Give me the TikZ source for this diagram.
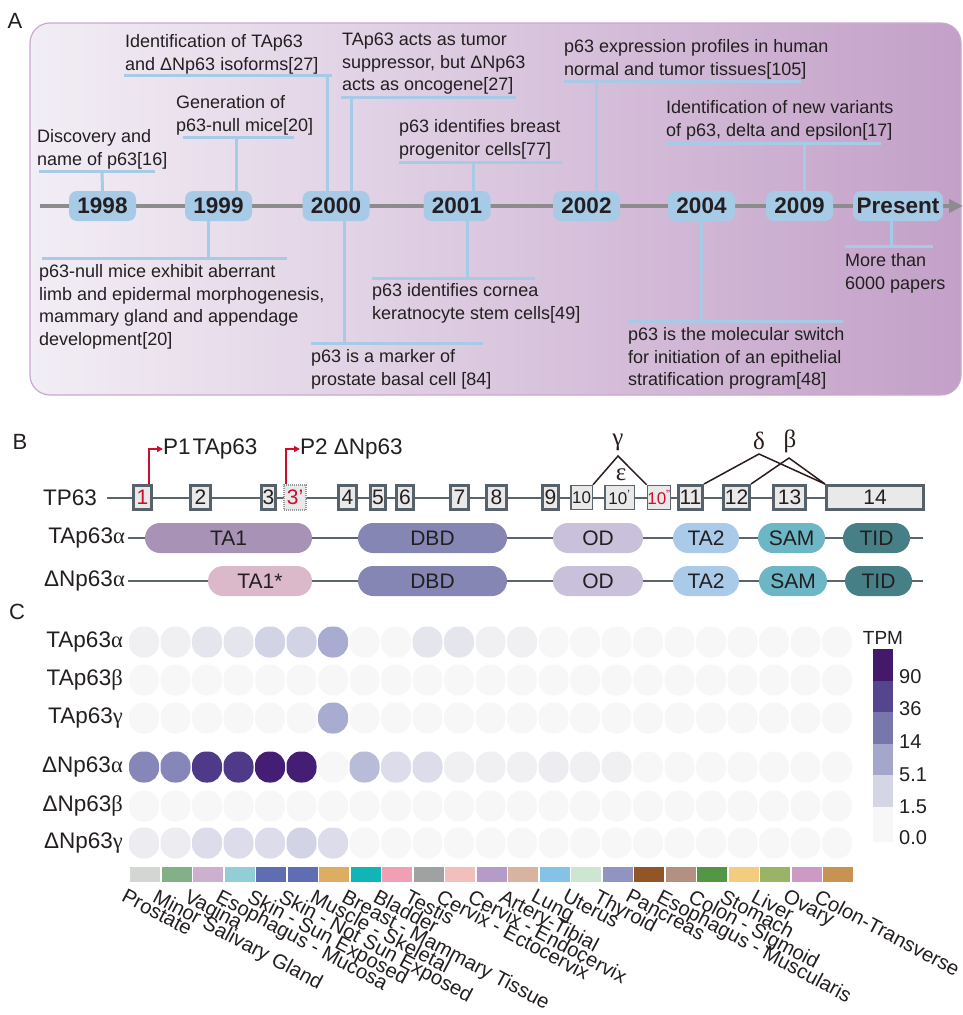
\documentclass[tikz,border=0pt]{standalone}
\usepackage{fontspec}
\setmainfont{Liberation Sans}
\newfontfamily\grk{Liberation Serif}
\usetikzlibrary{arrows.meta,calc}
\definecolor{txt}{HTML}{231F20}
\definecolor{tlblue}{HTML}{A7CBE6}
\definecolor{tlgray}{HTML}{8C8C8C}
\definecolor{bgl}{HTML}{F2EEF5}
\definecolor{bgr}{HTML}{C3A0C8}
\definecolor{bxborder}{HTML}{CBA8D0}
\definecolor{exgray}{HTML}{56616A}
\definecolor{exfill}{HTML}{E9E9E9}
\definecolor{lgray}{HTML}{5A666E}
\definecolor{pred}{HTML}{C8102E}
\definecolor{spl}{HTML}{2B1D1D}
\definecolor{cTA}{HTML}{A893B7}
\definecolor{cTAs}{HTML}{DBB9CB}
\definecolor{cDBD}{HTML}{8686B4}
\definecolor{cOD}{HTML}{C9C1DB}
\definecolor{cTAt}{HTML}{A9CBE9}
\definecolor{cSAM}{HTML}{6CB6C6}
\definecolor{cTID}{HTML}{477F87}
\definecolor{L0}{HTML}{F7F7F7}
\definecolor{La}{HTML}{F0F0F3}
\definecolor{Lb}{HTML}{ECECF1}
\definecolor{Lc}{HTML}{E5E5EE}
\definecolor{Ld}{HTML}{DCDCEA}
\definecolor{Le}{HTML}{D2D4E5}
\definecolor{Lf}{HTML}{B9BCD9}
\definecolor{Lg}{HTML}{A8ACD0}
\definecolor{Lh}{HTML}{8686B8}
\definecolor{Li}{HTML}{4F3A8A}
\definecolor{Lj}{HTML}{431E74}
\definecolor{g1}{HTML}{44196C}
\definecolor{g2}{HTML}{55458F}
\definecolor{g3}{HTML}{7777AB}
\definecolor{g4}{HTML}{A4A7C9}
\definecolor{g5}{HTML}{D4D6E5}
\definecolor{g6}{HTML}{F7F7F7}
\definecolor{t1}{HTML}{D4D6D4}
\definecolor{t2}{HTML}{82B087}
\definecolor{t3}{HTML}{CDAFCF}
\definecolor{t4}{HTML}{93CDD6}
\definecolor{t5}{HTML}{5F6DB3}
\definecolor{t6}{HTML}{5F6DB3}
\definecolor{t7}{HTML}{DDAD63}
\definecolor{t8}{HTML}{12B5B5}
\definecolor{t9}{HTML}{F09FB5}
\definecolor{t10}{HTML}{A0A2A2}
\definecolor{t11}{HTML}{F3BFBD}
\definecolor{t12}{HTML}{B59BC8}
\definecolor{t13}{HTML}{D8B3A0}
\definecolor{t14}{HTML}{83C3E6}
\definecolor{t15}{HTML}{CDE6D1}
\definecolor{t16}{HTML}{9194C1}
\definecolor{t17}{HTML}{925528}
\definecolor{t18}{HTML}{B39080}
\definecolor{t19}{HTML}{529646}
\definecolor{t20}{HTML}{F3CC7F}
\definecolor{t21}{HTML}{9AB466}
\definecolor{t22}{HTML}{CC9AC4}
\definecolor{t23}{HTML}{C69353}
\newcommand\evfont{\fontsize{18}{22.7}\selectfont}
\newcommand\bfont{\fontsize{22.5}{24}\selectfont}
\tikzset{
  yr/.style={fill=tlblue, rounded corners=8pt, minimum width=67pt, minimum height=30pt,
    inner sep=0pt, text=txt, font=\fontsize{22.5}{24}\selectfont\bfseries},
  conn/.style={draw=tlblue, line width=3pt},
  ev/.style={anchor=north west, inner sep=0pt, align=left, font=\evfont, text=txt},
  exon/.style={draw=exgray, line width=3pt, fill=exfill, inner sep=0pt, minimum height=24pt,
    text=txt, font=\fontsize{21}{21}\selectfont},
  thinexon/.style={draw=lgray, line width=1.5pt, fill=exfill, inner sep=0pt, minimum height=24pt,
    text=txt, font=\fontsize{17}{17}\selectfont},
  dom/.style={rounded corners=15pt, minimum height=30pt, inner sep=0pt, text=txt,
    font=\fontsize{21}{21}\selectfont},
  pline/.style={draw=lgray, line width=1.5pt},
  splice/.style={draw=spl, line width=1.5pt},
  prom/.style={draw=pred, line width=2pt, -{Triangle[length=6pt,width=6pt]}},
  glab/.style={inner sep=0pt, text=spl, font=\fontsize{25}{25}\selectfont\grk},
  rowlab/.style={anchor=east, inner sep=0pt, text=txt, font=\bfont},
  dot/.style={rounded corners=14pt, minimum width=30pt, minimum height=31pt, inner sep=0pt},
  tbar/.style={minimum width=30pt, minimum height=15pt, inner sep=0pt},
  tlab/.style={anchor=north west, rotate=-28, inner sep=0pt, text=txt, font=\fontsize{20.3}{20}\selectfont},
  leglab/.style={anchor=west, inner sep=0pt, text=txt, font=\fontsize{20}{20}\selectfont},
  panel/.style={inner sep=0pt, text=txt, font=\fontsize{22}{22}\selectfont}
}
\begin{document}
\begin{tikzpicture}[x=1pt,y=-1pt]
\useasboundingbox (0,0) rectangle (963,1015);

% ---------------- Panel A ----------------
\node[panel] (labA) at (15,21) {A};
\shadedraw[draw=bxborder, line width=1.2pt, rounded corners=20pt, left color=bgl, right color=bgr]
  (30,23) rectangle (961,395);

\coordinate (tlstart) at (40,206);
\coordinate (tlend) at (963,206);
\draw[line width=4pt, draw=tlgray, -{Triangle[length=14pt,width=13pt]}] (tlstart) -- (tlend);

\node[yr] (y1998) at (102.5,206) {1998};
\node[yr] (y1999) at (218.5,206) {1999};
\node[yr] (y2000) at (336,206) {2000};
\node[yr] (y2001) at (457,206) {2001};
\node[yr] (y2002) at (586.5,206) {2002};
\node[yr] (y2004) at (701.5,206) {2004};
\node[yr] (y2009) at (799.5,206) {2009};
\node[yr, minimum width=90pt] (ypres) at (898,206) {Present};

% events above
\node[ev] (e1) at (37,126.3) {\strut Discovery and\\name of p63[16]};
\draw[conn] (y1998.north) -- (102,171);
\draw[conn] (39,171) -- (155,171);

\node[ev] (e2) at (176,92.3) {\strut Generation of\\p63-null mice[20]};
\draw[conn] (y1999.north -| 236,0) -- (236,137);
\draw[conn] (183,137) -- (294,137);

\node[ev] (e3) at (125,31.3) {\strut Identification of TAp63\\and ΔNp63 isoforms[27]};
\draw[conn] (y2000.north -| 327,0) -- (327,75);
\draw[conn] (124,75) -- (332,75);

\node[ev] (e4) at (342,29.3) {\strut TAp63 acts as tumor\\suppressor, but ΔNp63\\acts as oncogene[27]};
\draw[conn] (y2000.north -| 351,0) -- (351,97);
\draw[conn] (341,97) -- (516,97);

\node[ev] (e5) at (399,116.3) {\strut p63 identifies breast\\progenitor cells[77]};
\draw[conn] (y2001.north -| 473,0) -- (473,162);
\draw[conn] (399,162) -- (562,162);

\node[ev] (e6) at (564,36.3) {\strut p63 expression profiles in human\\normal and tumor tissues[105]};
\draw[conn] (y2002.north -| 596,0) -- (596,81);
\draw[conn] (564,81) -- (801,81);

\node[ev] (e7) at (666,97.3) {\strut Identification of new variants\\of p63, delta and epsilon[17]};
\draw[conn] (y2009.north -| 804,0) -- (804,143);
\draw[conn] (666,143) -- (881,143);

% events below
\node[ev] (e8) at (39,261.3) {\strut p63-null mice exhibit aberrant\\limb and epidermal morphogenesis,\\mammary gland and appendage\\development[20]};
\draw[conn] (y1999.south -| 208,0) -- (208,258);
\draw[conn] (42,258) -- (287,258);

\node[ev] (e9) at (311,346.3) {\strut p63 is a marker of\\prostate basal cell [84]};
\draw[conn] (y2000.south -| 344,0) -- (344,343);
\draw[conn] (311,343) -- (483,343);

\node[ev] (e10) at (372,280.3) {\strut p63 identifies cornea\\keratnocyte stem cells[49]};
\draw[conn] (y2001.south -| 467,0) -- (467,278);
\draw[conn] (372,278) -- (535,278);

\node[ev] (e11) at (628,324.3) {\strut p63 is the molecular switch\\for initiation of an epithelial\\stratification program[48]};
\draw[conn] (y2004.south) -- (701,321);
\draw[conn] (628,321) -- (843,321);

\node[ev] (e12) at (845,250.3) {\strut More than\\6000 papers};
\draw[conn] (ypres.south -| 891,0) -- (891,246);
\draw[conn] (845,246) -- (933,246);

% ---------------- Panel B ----------------
\node[panel] (labB) at (20,442) {B};
\node[anchor=west, inner sep=0pt, text=txt, font=\bfont] (tp63) at (43,498) {TP63};
\coordinate (gs) at (107,498);
\coordinate (ge) at (925,498);
\draw[pline] (gs) -- (ge);

\node[exon, minimum width=18pt] (x1) at (142.5,497.5) {\color{pred}1};
\node[exon, minimum width=20pt] (x2) at (200.5,497.5) {2};
\node[exon, minimum width=14pt] (x3) at (268.5,497.5) {3};
\node[draw=gray!80, line width=2pt, dash pattern=on 1pt off 1pt, fill=exfill, inner sep=0pt,
  minimum width=22pt, minimum height=25pt, text=pred, font=\fontsize{21}{21}\selectfont]
  (x3p) at (295,497.5) {3'};
\node[exon, minimum width=18pt] (x4) at (347.5,497.5) {4};
\node[exon, minimum width=15pt] (x5) at (378,497.5) {5};
\node[exon, minimum width=17pt] (x6) at (405,497.5) {6};
\node[exon, minimum width=18pt] (x7) at (459.5,497.5) {7};
\node[exon, minimum width=20pt] (x8) at (496.5,497.5) {8};
\node[exon, minimum width=16pt] (x9) at (550.5,497.5) {9};
\node[thinexon, minimum width=21.5pt] (x10) at (581.5,497.5) {10};
\node[thinexon, minimum width=29.5pt] (x10p) at (619.5,497.5) {10\textsuperscript{'}};
\node[thinexon, minimum width=22.5pt, text=pred] (x10pp) at (659,497.5) {10\textsuperscript{''}};
\node[exon, minimum width=24pt] (x11) at (690.5,497.5) {11};
\node[exon, minimum width=26pt] (x12) at (736.5,497.5) {12};
\node[exon, minimum width=32pt] (x13) at (789.5,497.5) {13};
\node[exon, minimum width=97pt] (x14) at (875,497.5) {14};

% splicing
\coordinate (apg) at (618,456);
\coordinate (apd) at (759,454);
\coordinate (apb) at (789,458);
\draw[splice] (x10.north east) -- (apg) -- (x10pp.north west);
\draw[splice] (x11.north east) -- (apd) -- (x14.north west);
\draw[splice] (x12.north east) -- (apb) -- (x14.north west);
\node[glab] (lg) at (618,442) {γ};
\node[glab] (le) at (621,475) {ε};
\node[glab] (ld) at (759,441) {δ};
\node[glab] (lb) at (790,441) {β};

% promoters
\coordinate (p1c) at (149,449);
\coordinate (p2c) at (286,449);
\node[anchor=west, inner sep=0pt, text=txt, font=\bfont] (p1t) at (163,449) {P1\kern2pt TAp63};
\node[anchor=west, inner sep=0pt, text=txt, font=\bfont] (p2t) at (300,449) {P2 ΔNp63};
\draw[prom] (x1.north -| 149,0) -- (p1c) -- (p1t.west);
\draw[prom] (x3p.north -| 286,0) -- (p2c) -- (p2t.west);

% protein rows
\node[rowlab] (rTA) at (125,538) {TAp63{\grk α}};
\node[rowlab] (rDN) at (125,581) {ΔNp63{\grk α}};
\draw[pline] (rTA.east) ++(3,0) -- (923,538);
\draw[pline] (rDN.east) ++(3,0) -- (923,581);

\node[dom, fill=cTA, minimum width=167pt] (ta1) at (228.5,538) {TA1};
\node[dom, fill=cDBD, minimum width=149pt] (dbd1) at (432.5,538) {DBD};
\node[dom, fill=cOD, minimum width=90pt] (od1) at (598,538) {OD};
\node[dom, fill=cTAt, minimum width=66pt] (tat1) at (706,538) {TA2};
\node[dom, fill=cSAM, minimum width=67pt] (sam1) at (791.5,538) {SAM};
\node[dom, fill=cTID, minimum width=67pt] (tid1) at (876.5,538) {TID};

\node[dom, fill=cTAs, minimum width=104pt] (ta1s) at (260,581) {TA1*};
\node[dom, fill=cDBD, minimum width=149pt] (dbd2) at (432.5,581) {DBD};
\node[dom, fill=cOD, minimum width=90pt] (od2) at (598,581) {OD};
\node[dom, fill=cTAt, minimum width=66pt] (tat2) at (706,581) {TA2};
\node[dom, fill=cSAM, minimum width=68pt] (sam2) at (793,581) {SAM};
\node[dom, fill=cTID, minimum width=67pt] (tid2) at (878.5,581) {TID};

% ---------------- Panel C ----------------
\node[panel] (labC) at (17,612) {C};
\node[rowlab] (h1) at (123,642) {TAp63{\grk α}};
\node[rowlab] (h2) at (123,680) {TAp63{\grk β}};
\node[rowlab] (h3) at (123,718) {TAp63{\grk γ}};
\node[rowlab] (h4) at (123,767) {ΔNp63{\grk α}};
\node[rowlab] (h5) at (123,806) {ΔNp63{\grk β}};
\node[rowlab] (h6) at (123,843) {ΔNp63{\grk γ}};

\foreach \c [count=\i] in {La,La,Lc,Lc,Le,Le,Lg,L0,L0,Lc,Lc,La,La,L0,L0,L0,L0,L0,L0,L0,L0,L0,L0}
  \node[dot, fill=\c] (da\i) at ({144+(\i-1)*31.5},642) {};
\foreach \c [count=\i] in {L0,L0,L0,L0,L0,L0,L0,L0,L0,L0,L0,L0,L0,L0,L0,L0,L0,L0,L0,L0,L0,L0,L0}
  \node[dot, fill=\c] (db\i) at ({144+(\i-1)*31.5},680) {};
\foreach \c [count=\i] in {L0,L0,L0,L0,L0,L0,Lg,L0,L0,L0,L0,L0,L0,L0,L0,L0,L0,L0,L0,L0,L0,L0,L0}
  \node[dot, fill=\c] (dc\i) at ({144+(\i-1)*31.5},718) {};
\foreach \c [count=\i] in {Lh,Lh,Li,Li,Lj,Lj,L0,Lf,Ld,Ld,La,La,La,Lb,La,La,L0,L0,L0,L0,L0,L0,L0}
  \node[dot, fill=\c] (dd\i) at ({144+(\i-1)*31.5},767) {};
\foreach \c [count=\i] in {L0,L0,L0,L0,L0,L0,L0,L0,L0,L0,L0,L0,L0,L0,L0,L0,L0,L0,L0,L0,L0,L0,L0}
  \node[dot, fill=\c] (de\i) at ({144+(\i-1)*31.5},806) {};
\foreach \c [count=\i] in {Lb,Lb,Ld,Ld,Ld,Le,Ld,L0,L0,L0,L0,L0,L0,L0,L0,L0,L0,L0,L0,L0,L0,L0,L0}
  \node[dot, fill=\c] (df\i) at ({144+(\i-1)*31.5},843) {};

% tissue bars and labels
\foreach \n [count=\i] in {Prostate,Minor Salivary Gland,Vagina,Esophagus - Mucosa,Skin - Sun Exposed,
  Skin - Not Sun Exposed,Muscle - Skeletal,Breast - Mammary Tissue,Bladder,Testis,Cervix - Ectocervix,
  Cervix - Endocervix,Artery-Tibial,Lung,Uterus,Thyroid,Pancreas,Esophagus - Muscularis,
  Colon - Sigmoid,Stomach,Liver,Ovary,Colon-Transverse}{
  \node[tbar, fill=t\i] (tb\i) at ({145+(\i-1)*31.5},874.5) {};
  \node[tlab] (tl\i) at ({127+(\i-1)*31.5},888) {\n};
}

% legend
\node[inner sep=0pt, text=txt, font=\fontsize{19}{19}\selectfont] (tpm) at (883,638) {TPM};
\fill[g1] (873,649) rectangle (893,681);
\fill[g2] (873,681) rectangle (893,712);
\fill[g3] (873,712) rectangle (893,744);
\fill[g4] (873,744) rectangle (893,775);
\fill[g5] (873,775) rectangle (893,807);
\fill[g6] (873,807) rectangle (893,842);
\node[leglab] (l90) at (899,677) {90};
\node[leglab] (l36) at (899,709) {36};
\node[leglab] (l14) at (899,742) {14};
\node[leglab] (l51) at (899,775) {5.1};
\node[leglab] (l15) at (899,807) {1.5};
\node[leglab] (l00) at (899,838) {0.0};
\end{tikzpicture}
\end{document}
